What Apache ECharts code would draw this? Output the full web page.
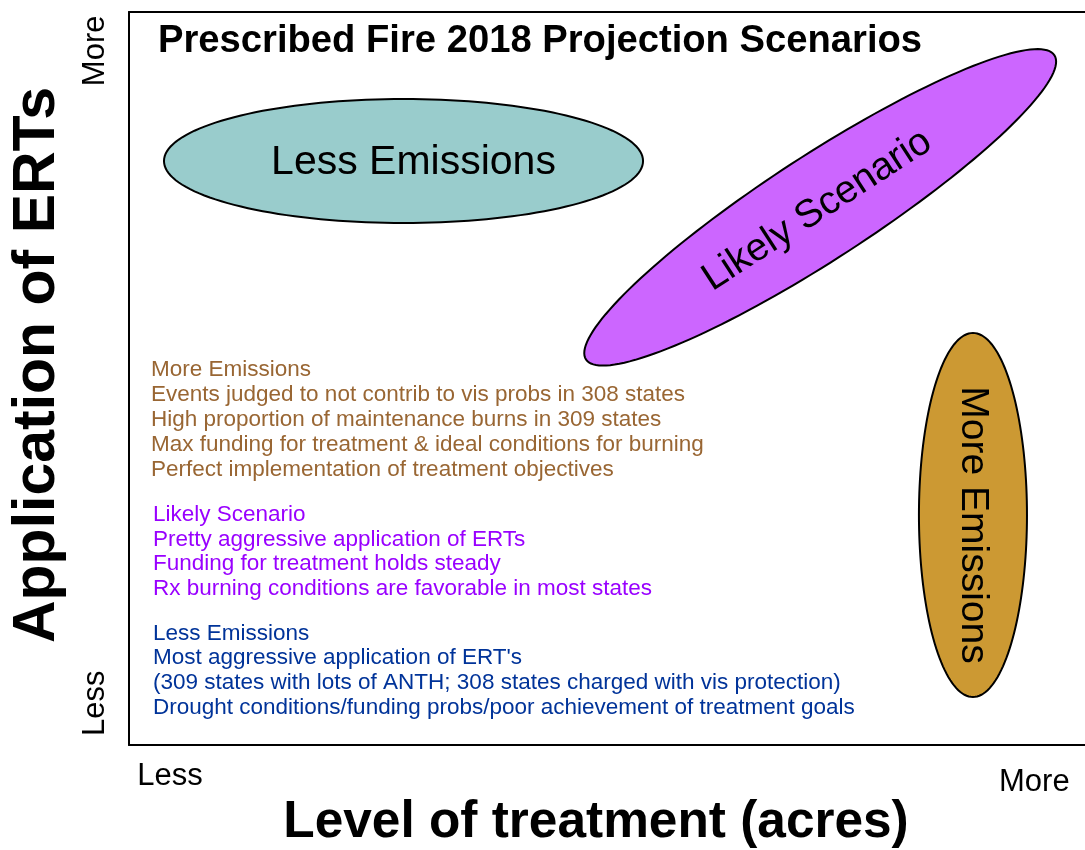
<!DOCTYPE html>
<html>
<head>
<meta charset="utf-8">
<script src="https://cdn.jsdelivr.net/npm/echarts@6/dist/echarts.min.js"></script>
<style>
html,body{margin:0;padding:0;background:#fff;}
#chart{width:1085px;height:850px;}
</style>
</head>
<body>
<div id="chart"></div>
<script>
// ---- Data ----
const chartTitle = 'Prescribed Fire 2018 Projection Scenarios';
const xAxisName = 'Level of treatment (acres)';
const yAxisName = 'Application of ERTs';
const xTickLabels = ['Less', 'More'];
const xTickValues = [4.3, 94.7];
const yTickLabels = ['Less', 'More'];
const yTickValues = [5.7, 94.7];

// scenarios: name, tip A (x,y), tip B (x,y), half width (y units)
const scenarioNames = ['Less Emissions', 'Likely Scenario', 'More Emissions'];
const scenarioTipA = [[3.66, 79.67], [47.8, 52.6], [88.28, 56.21]];
const scenarioTipB = [[53.77, 79.67], [96.8, 94.1], [88.28, 6.55]];
const scenarioHalfWidth = [8.46, 7.1, 7.37];

// styles (not data)
const scenarioColors = ['#99CCCC', '#CC66FF', '#CC9933'];
const scenarioFontSize = [41, 39, 39];
const scenarioLabelShift = [[10, 2], [-3, 3], [0, 10]];

// notes
const noteMore = ['More Emissions',
  'Events judged to not contrib to vis probs in 308 states',
  'High proportion of maintenance burns in 309 states',
  'Max funding for treatment & ideal conditions for burning',
  'Perfect implementation of treatment objectives'];
const noteLikely = ['Likely Scenario',
  'Pretty aggressive application of ERTs',
  'Funding for treatment holds steady',
  'Rx burning conditions are favorable in most states'];
const noteLess = ['Less Emissions',
  "Most aggressive application of ERT's",
  '(309 states with lots of ANTH; 308 states charged with vis protection)',
  'Drought conditions/funding probs/poor achievement of treatment goals'];
const noteColors = ['#996633', '#9900FF', '#003399'];

const FONT = '"Liberation Sans", Arial, Helvetica, sans-serif';

const chart = echarts.init(document.getElementById('chart'), null, {renderer: 'canvas'});

function renderItem(params, api) {
  const i = params.dataIndex;
  const p1 = api.coord([api.value(0), api.value(1)]);
  const p2 = api.coord([api.value(2), api.value(3)]);
  const hw = Math.abs(api.size([0, api.value(4)])[1]);
  const cx = (p1[0] + p2[0]) / 2, cy = (p1[1] + p2[1]) / 2;
  const dx = p2[0] - p1[0], dy = p2[1] - p1[1];
  const a = Math.hypot(dx, dy) / 2;
  const ang = Math.atan2(dy, dx);
  const ca = Math.cos(ang), sa = Math.sin(ang);
  const pts = [];
  const N = 160;
  for (let k = 0; k < N; k++) {
    const t = 2 * Math.PI * k / N;
    const ex = a * Math.cos(t), ey = hw * Math.sin(t);
    pts.push([cx + ex * ca - ey * sa, cy + ex * sa + ey * ca]);
  }
  return {
    type: 'group',
    children: [
      {
        type: 'polygon',
        shape: {points: pts},
        style: {fill: scenarioColors[i], stroke: '#000', lineWidth: 2}
      },
      {
        type: 'text',
        x: cx + scenarioLabelShift[i][0], y: cy + scenarioLabelShift[i][1],
        rotation: -ang,
        style: {
          text: scenarioNames[i],
          x: 0, y: 0,
          align: 'center', verticalAlign: 'middle',
          font: scenarioFontSize[i] + 'px ' + FONT,
          fill: '#000'
        }
      }
    ]
  };
}

const scenarioData = scenarioNames.map((n, i) => [
  scenarioTipA[i][0], scenarioTipA[i][1], scenarioTipB[i][0], scenarioTipB[i][1], scenarioHalfWidth[i]
]);

function noteGraphic(lines, color, left, top, lh) {
  return {
    type: 'text',
    left: left, top: top,
    style: {
      text: lines.join('\n'),
      font: '22.5px ' + FONT,
      fill: color,
      lineHeight: lh
    }
  };
}

const option = {
  backgroundColor: '#fff',
  animation: false,
  grid: {left: 129, right: 0, top: 12, bottom: 105},
  xAxis: [
    {type: 'value', min: 0, max: 100, position: 'bottom',
      axisLine: {show: true, lineStyle: {color: '#000', width: 2}},
      axisTick: {show: false}, axisLabel: {show: false}, splitLine: {show: false}},
    {type: 'value', min: 0, max: 100, position: 'top',
      axisLine: {show: true, lineStyle: {color: '#000', width: 2}},
      axisTick: {show: false}, axisLabel: {show: false}, splitLine: {show: false}}
  ],
  yAxis: {type: 'value', min: 0, max: 100,
    axisLine: {show: true, lineStyle: {color: '#000', width: 2}},
    axisTick: {show: false}, axisLabel: {show: false}, splitLine: {show: false}},
  series: [{
    type: 'custom',
    renderItem: renderItem,
    data: scenarioData,
    clip: false
  }]
};
chart.setOption(option);

const graphics = [];
// title
graphics.push({type: 'text', x: 158, y: 41,
  style: {text: chartTitle, font: 'bold 38.2px ' + FONT, fill: '#000', align: 'left', verticalAlign: 'middle'}});
// axis names
graphics.push({type: 'text', x: 596, y: 823,
  style: {text: xAxisName, font: 'bold 51.4px ' + FONT, fill: '#000', align: 'center', verticalAlign: 'middle'}});
graphics.push({type: 'text', x: 38, y: 365, rotation: Math.PI / 2,
  style: {text: yAxisName, font: 'bold 59px ' + FONT, fill: '#000', align: 'center', verticalAlign: 'middle'}});
// tick labels
xTickLabels.forEach((t, i) => {
  const px = chart.convertToPixel({xAxisIndex: 0}, xTickValues[i]);
  graphics.push({type: 'text', x: px, y: i === 0 ? 776 : 782,
    style: {text: t, font: '31px ' + FONT, fill: '#000', align: 'center', verticalAlign: 'middle'}});
});
yTickLabels.forEach((t, i) => {
  const py = chart.convertToPixel({yAxisIndex: 0}, yTickValues[i]);
  graphics.push({type: 'text', x: 95, y: py, rotation: Math.PI / 2,
    style: {text: t, font: '31px ' + FONT, fill: '#000', align: 'center', verticalAlign: 'middle'}});
});
// notes
graphics.push(noteGraphic(noteMore, noteColors[0], 151, 357, 25));
graphics.push(noteGraphic(noteLikely, noteColors[1], 153, 503, 24.4));
graphics.push(noteGraphic(noteLess, noteColors[2], 153, 621, 24.7));

chart.setOption({graphic: graphics});
</script>
</body>
</html>
